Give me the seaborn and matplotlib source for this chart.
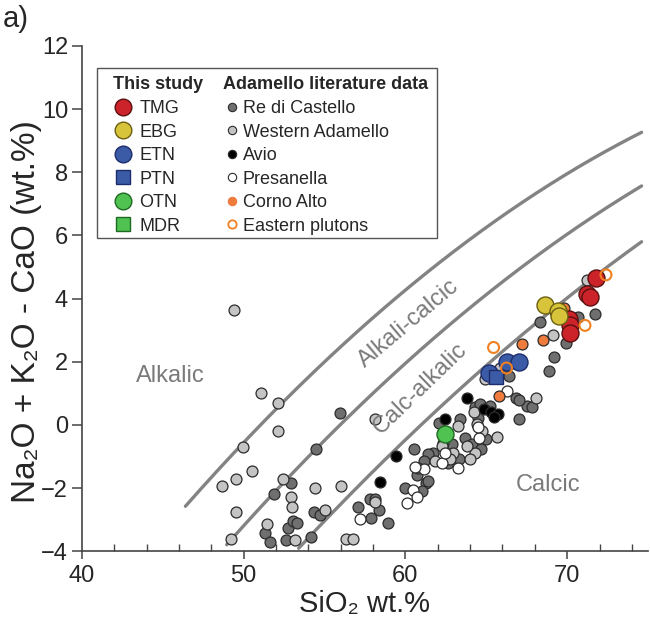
import numpy as np
import pandas as pd
import matplotlib
matplotlib.use("Agg")
import matplotlib.pyplot as plt
import seaborn as sns
from matplotlib.lines import Line2D
from matplotlib.patches import Rectangle
from matplotlib.ticker import MultipleLocator

# ---------------- data ----------------
# Adamello literature data (SiO2 wt.%, Na2O + K2O - CaO wt.%)
re_castello_x = [55.95, 54.5, 52.9, 51.9, 51.35, 51.65, 52.75, 53.05, 53.3, 52.6, 54.35, 54.7,
                 54.15, 57.05, 57.8, 58.15, 58.35, 57.85, 58.9, 60.5, 59.95, 61.25, 61.05,
                 62.1, 63.35, 64.3, 64.6, 65.2, 65.0, 66.4, 66.85, 67.5, 67.05,
                 67.85, 67.05, 68.3, 69.9, 69.2, 68.9, 70.65, 71.7, 62.9, 60.7,
                 63.69, 62.33, 64.12, 64.68, 61.7, 61.4, 63.3, 61.15, 62.63, 60.78, 61.4, 64.49]
re_castello_y = [0.38, -0.76, -1.84, -2.2, -3.43, -3.7, -3.27, -3.05, -3.1, -3.65, -2.75, -2.85,
                 -3.55, -2.6, -2.35, -2.35, -2.7, -2.95, -3.1, -0.75, -2.0, -1.85, -2.1,
                 0.05, 0.2, 0.55, 0.65, 0.6, -0.45, 1.55, 0.85, 0.6, 0.8,
                 0.55, 0.2, 3.25, 2.6, 2.15, 1.7, 3.4, 3.5, -0.6, -1.6,
                 -0.41, -0.57, -0.6, -0.76, -0.89, -0.92, -1.08, -1.14, -1.2, -1.36, -1.77, 0.22]

western_x = [49.4, 51.1, 52.1, 52.15, 49.95, 50.5, 49.55, 48.65, 49.5, 49.2, 52.45, 54.4,
             56.0, 52.9, 53.0, 51.45, 53.2, 55.0, 56.3, 56.75, 58.1, 58.1,
             64.25, 65.65, 68.05, 65.85, 64.9, 69.1, 71.2,
             63.25, 64.43, 64.74, 64.3, 63.8, 62.26, 62.94, 63.99, 62.76, 61.83]
western_y = [3.65, 1.0, 0.7, -0.2, -0.7, -1.45, -1.7, -1.95, -2.75, -3.6, -1.7, -2.0,
             -1.95, -2.3, -2.6, -3.15, -3.65, -2.7, -3.6, -3.6, 0.2, -2.45,
             0.4, -0.4, 0.85, 1.8, 1.45, 2.85, 4.6,
             -0.03, 0.03, -0.19, -0.89, -0.67, -0.67, -0.89, -1.08, -1.08, -1.14]

avio_x = [63.8, 62.45, 64.85, 65.3, 65.75, 65.5, 59.4, 58.45]
avio_y = [0.85, 0.2, 0.5, 0.4, 0.35, 0.25, -1.0, -1.8]

presanella_x = [57.2, 60.45, 60.7, 60.1, 61.15, 62.26, 62.45, 63.25, 64.55, 64.5, 66.3, 60.6]
presanella_y = [-2.98, -2.06, -2.3, -2.48, -1.39, -1.2, -0.89, -1.36, -0.41, -0.06, 1.08, -1.35]

corno_alto_x = [69.8, 68.5, 67.2, 65.8]
corno_alto_y = [3.7, 2.7, 2.55, 0.9]

eastern_x = [72.4, 71.1, 65.45, 66.25]
eastern_y = [4.75, 3.15, 2.45, 1.8]

# This study
tmg_x = [71.8, 71.2, 71.4, 70.1, 70.2, 70.2]
tmg_y = [4.65, 4.15, 4.05, 3.35, 3.15, 2.9]
ebg_x = [68.65, 69.45, 69.5]
ebg_y = [3.8, 3.6, 3.45]
etn_x = [65.15, 66.25, 67.05]
etn_y = [1.65, 2.0, 2.0]
ptn_x = [65.6]
ptn_y = [1.5]
otn_x = [62.45]
otn_y = [-0.3]
mdr_x = []
mdr_y = []

# MALI boundaries (Frost et al. 2001): y = a + b*x + c*x^2
boundary_names = ["alkalic", "alkali-calcic", "calc-alkalic"]
boundary_coef = [(-41.86, 1.112, -0.00572), (-44.72, 1.094, -0.00527), (-45.36, 1.0043, -0.00427)]
boundary_xmin = [46.4, 48.95, 53.4]
boundary_xmax = 74.6

# ---------------- style ----------------
sns.set_theme(style="ticks")
plt.rcParams['font.family'] = ['Liberation Sans', 'DejaVu Sans']

fig = plt.figure(figsize=(6.5, 6.2), dpi=100)
ax = fig.add_axes([0.126, 0.111, 0.871, 0.815])

line_grey = "#838383"
for (a, b, c), x0 in zip(boundary_coef, boundary_xmin):
    xs = np.linspace(x0, boundary_xmax, 200)
    sns.lineplot(x=xs, y=a + b * xs + c * xs ** 2, ax=ax, color=line_grey, lw=2.4,
                 estimator=None, sort=False, zorder=1)

edge = "#2b2b2b"
small = 62
big = 150

groups_lit = [
    (re_castello_x, re_castello_y, "#6f6f6f", edge, "o", small),
    (western_x, western_y, "#c4c4c4", edge, "o", small),
    (avio_x, avio_y, "#000000", edge, "o", small),
    (presanella_x, presanella_y, "#ffffff", edge, "o", small),
    (corno_alto_x, corno_alto_y, "#ef7b3d", edge, "o", small),
]
for gx, gy, fc, ec, mk, s in groups_lit:
    sns.scatterplot(x=gx, y=gy, ax=ax, color=fc, edgecolor=ec, linewidth=0.9,
                    marker=mk, s=s, zorder=3, legend=False)

red, yellow, blue, green = "#cc232b", "#d7c43b", "#3b5ba6", "#4fc251"
groups_study = [
    (tmg_x, tmg_y, red, "#5a1010", "o", big),
    (ebg_x, ebg_y, yellow, "#6b5f12", "o", big),
    (etn_x, etn_y, blue, "#1d2c6b", "o", big),
    (ptn_x, ptn_y, blue, "#1d2c6b", "s", 110),
    (otn_x, otn_y, green, "#1f6a22", "o", big),
    (mdr_x, mdr_y, green, "#1f6a22", "s", 110),
]
for gx, gy, fc, ec, mk, s in groups_study:
    if len(gx):
        sns.scatterplot(x=gx, y=gy, ax=ax, color=fc, edgecolor=ec, linewidth=1.0,
                        marker=mk, s=s, zorder=4, legend=False)

sns.scatterplot(x=eastern_x, y=eastern_y, ax=ax, facecolor="none", edgecolor="#f08022",
                linewidth=1.5, marker="o", s=small, zorder=5, legend=False)

# ---------------- axes ----------------
ax.set_xlim(40, 75)
ax.set_ylim(-4, 12)
ax.set_xticks([40, 50, 60, 70])
ax.xaxis.set_minor_locator(MultipleLocator(2))
ax.set_yticks(np.arange(-4, 13, 2))
ax.tick_params(axis='x', which='major', direction='out', length=6, width=1.1, color="#444444",
               labelsize=17, pad=4)
ax.tick_params(axis='x', which='minor', direction='in', length=5, width=1.0, color="#444444")
ax.tick_params(axis='y', which='major', direction='out', length=7, width=1.1, color="#444444",
               labelsize=17, pad=3)
sns.despine(ax=ax)
for sp in ("left", "bottom"):
    ax.spines[sp].set_color("#444444")
    ax.spines[sp].set_linewidth(1.2)

ax.set_xlabel("SiO₂ wt.%", fontsize=21)
ax.xaxis.set_label_coords(0.5, -0.077)
ax.set_ylabel("Na₂O + K₂O - CaO (wt.%)", fontsize=24)
ax.yaxis.set_label_coords(-0.07, 0.475)

txt_grey = "#7a7a7a"
ax.text(45.45, 1.56, "Alkalic", color=txt_grey, fontsize=17, ha="center", va="center")
ax.text(60.2, 3.2, "Alkali-calcic", color=txt_grey, fontsize=17, ha="center", va="center",
        rotation=40, rotation_mode="anchor")
ax.text(60.9, 1.15, "Calc-alkalic", color=txt_grey, fontsize=17, ha="center", va="center",
        rotation=44, rotation_mode="anchor")
ax.text(68.8, -1.9, "Calcic", color=txt_grey, fontsize=17, ha="center", va="center")

fig.text(0.004, 0.992, "a)", fontsize=21, ha="left", va="top")

# ---------------- legend ----------------
def mk(marker, fc, ec, ms, lw=1.0):
    return Line2D([], [], ls="none", marker=marker, markersize=ms, markerfacecolor=fc,
                  markeredgecolor=ec, markeredgewidth=lw)

h1 = [mk("o", red, "#5a1010", 12), mk("o", yellow, "#6b5f12", 12), mk("o", blue, "#1d2c6b", 12),
      mk("s", blue, "#1d2c6b", 10.5), mk("o", green, "#1f6a22", 12), mk("s", green, "#1f6a22", 10.5)]
l1 = ["TMG", "EBG", "ETN", "PTN", "OTN", "MDR"]
h2 = [mk("o", "#6f6f6f", edge, 6, 0.8), mk("o", "#c4c4c4", edge, 6, 0.8), mk("o", "#000000", edge, 6, 0.8),
      mk("o", "#ffffff", edge, 6, 0.8), mk("o", "#ef7b3d", "#ef7b3d", 6, 0.8),
      mk("o", "none", "#f08022", 6, 1.3)]
l2 = ["Re di Castello", "Western Adamello", "Avio", "Presanella", "Corno Alto", "Eastern plutons"]

common = dict(loc="upper left", frameon=False, fontsize=13, labelspacing=0.36, borderpad=0,
              borderaxespad=0, title_fontproperties={"weight": "bold", "size": 13})
leg1 = ax.legend(h1, l1, title="This study", bbox_to_anchor=(0.055, 0.94),
                 handlelength=1.1, handletextpad=0.35, **common)
leg1._legend_box.align = "left"
leg1._legend_box.sep = 5
ax.add_artist(leg1)
leg2 = ax.legend(h2, l2, title="Adamello literature data", bbox_to_anchor=(0.249, 0.94),
                 handlelength=1.0, handletextpad=0.1, **common)
leg2._legend_box.align = "left"
leg2._legend_box.sep = 5

ax.add_patch(Rectangle((0.0265, 0.62), 0.6005, 0.3366, transform=ax.transAxes, fill=False,
                       ec="#555555", lw=1.0, zorder=6, clip_on=False))

fig.savefig("out.png", dpi=100)
